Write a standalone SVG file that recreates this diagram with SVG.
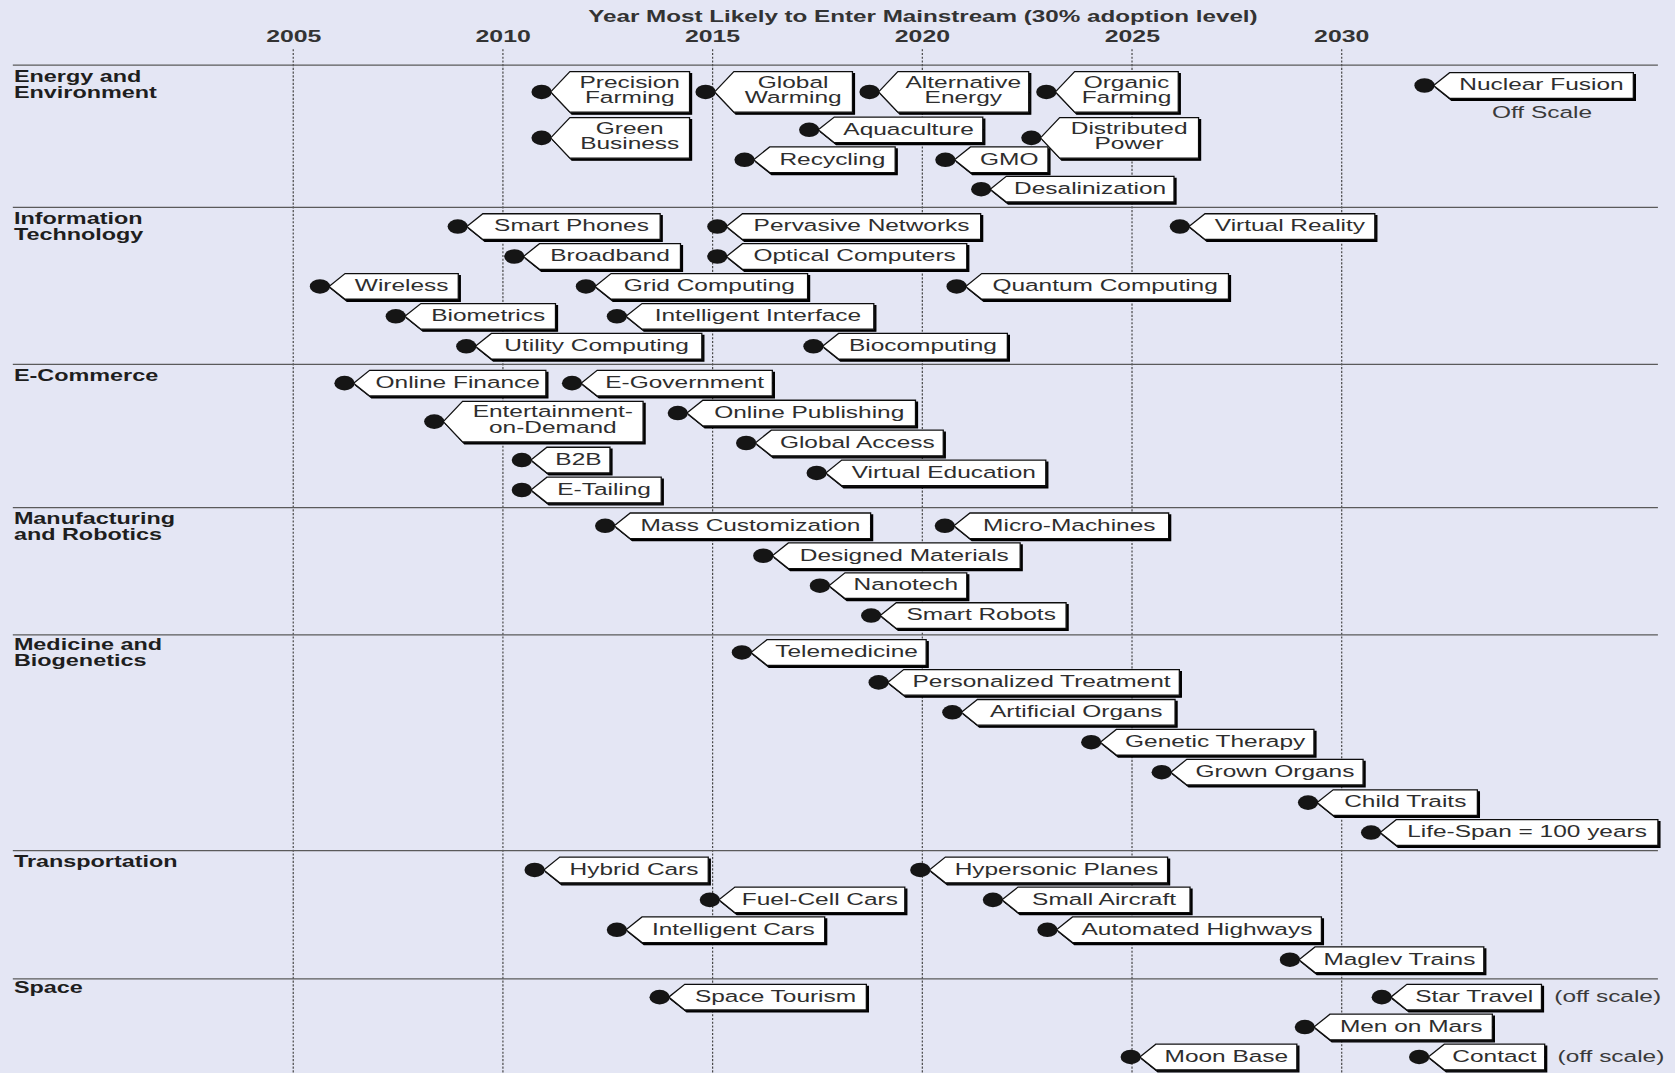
<svg xmlns="http://www.w3.org/2000/svg" width="1675" height="1073" viewBox="0 0 1675 1073">
<defs>
<filter id="sh" x="-10%" y="-20%" width="125%" height="150%">
<feOffset in="SourceAlpha" dx="1.7" dy="1.7" result="o"/>
<feMerge><feMergeNode in="o"/><feMergeNode in="SourceGraphic"/></feMerge>
</filter>
</defs>
<style>
.bg{fill:#e4e6f4}
.grid line{stroke:#444;stroke-width:1.1;stroke-dasharray:2 1.5}
.sep line{stroke:#5a5a5a;stroke-width:1.2}
.ttl{font-family:"Liberation Sans",Arial,sans-serif;font-weight:bold;font-size:15px;fill:#333;text-anchor:middle}
.yr{font-family:"Liberation Sans",Arial,sans-serif;font-weight:bold;font-size:15px;fill:#333;text-anchor:middle}
.cat{font-family:"Liberation Sans",Arial,sans-serif;font-weight:bold;font-size:15px;fill:#1e1e1e}
.tag ellipse{fill:#151515}
.tag polygon{fill:#fff;stroke:#111;stroke-width:1.2;filter:url(#sh)}
.tag text{font-family:"Liberation Sans",Arial,sans-serif;font-size:16px;fill:#2e2e2e;text-anchor:middle}
.note{font-family:"Liberation Sans",Arial,sans-serif;font-size:16px;fill:#3a3a3a}
</style>
<rect class="bg" x="0" y="0" width="1675" height="1073"/>
<g transform="scale(1.06824,1.06873)">
<text class="ttl" transform="translate(864,20.5) scale(1.51,1)">Year Most Likely to Enter Mainstream (30% adoption level)</text>
<g id="years">
<text class="yr" transform="translate(275,39) scale(1.55,1)">2005</text>
<text class="yr" transform="translate(471,39) scale(1.55,1)">2010</text>
<text class="yr" transform="translate(667,39) scale(1.55,1)">2015</text>
<text class="yr" transform="translate(863.5,39) scale(1.55,1)">2020</text>
<text class="yr" transform="translate(1060,39) scale(1.55,1)">2025</text>
<text class="yr" transform="translate(1256,39) scale(1.55,1)">2030</text>
</g>
<g id="connectors" class="grid">
<line x1="274.5" y1="46" x2="274.5" y2="1004"/>
<line x1="470.8" y1="46" x2="470.8" y2="1004"/>
<line x1="667.1" y1="46" x2="667.1" y2="1004"/>
<line x1="863.4" y1="46" x2="863.4" y2="1004"/>
<line x1="1059.7" y1="46" x2="1059.7" y2="1004"/>
<line x1="1256" y1="46" x2="1256" y2="1004"/>
</g>
<g id="separators" class="sep">
<line x1="12" y1="61" x2="1552" y2="61"/>
<line x1="12" y1="194" x2="1552" y2="194"/>
<line x1="12" y1="341" x2="1552" y2="341"/>
<line x1="12" y1="475" x2="1552" y2="475"/>
<line x1="12" y1="594" x2="1552" y2="594"/>
<line x1="12" y1="796" x2="1552" y2="796"/>
<line x1="12" y1="916" x2="1552" y2="916"/>
</g>
<g id="categories">
<text class="cat" transform="translate(13,76.5) scale(1.46,1)"><tspan x="0" y="0">Energy and</tspan><tspan x="0" y="15">Environment</tspan></text>
<text class="cat" transform="translate(13,209.5) scale(1.46,1)"><tspan x="0" y="0">Information</tspan><tspan x="0" y="15">Technology</tspan></text>
<text class="cat" transform="translate(13,356.5) scale(1.46,1)">E-Commerce</text>
<text class="cat" transform="translate(13,490.5) scale(1.46,1)"><tspan x="0" y="0">Manufacturing</tspan><tspan x="0" y="15">and Robotics</tspan></text>
<text class="cat" transform="translate(13,608.5) scale(1.46,1)"><tspan x="0" y="0">Medicine and</tspan><tspan x="0" y="15">Biogenetics</tspan></text>
<text class="cat" transform="translate(13,811.5) scale(1.46,1)">Transportation</text>
<text class="cat" transform="translate(13,929.5) scale(1.46,1)">Space</text>
</g>

<g id="precision-farming" class="tag"><ellipse cx="507" cy="86" rx="9.5" ry="6.8"/><polygon points="515.5,86 533.5,67 645.5,67 645.5,105 533.5,105"/><text transform="translate(589.5,82.5) scale(1.43,1)"><tspan x="0" y="-0.5">Precision</tspan><tspan x="0" y="14.3">Farming</tspan></text></g>
<g id="global-warming" class="tag"><ellipse cx="660.5" cy="86" rx="9.5" ry="6.8"/><polygon points="669,86 687,67 798,67 798,105 687,105"/><text transform="translate(742.5,82.5) scale(1.43,1)"><tspan x="0" y="-0.5">Global</tspan><tspan x="0" y="14.3">Warming</tspan></text></g>
<g id="alternative-energy" class="tag"><ellipse cx="814" cy="86" rx="9.5" ry="6.8"/><polygon points="822.5,86 840.5,67 963,67 963,105 840.5,105"/><text transform="translate(901.75,82.5) scale(1.43,1)"><tspan x="0" y="-0.5">Alternative</tspan><tspan x="0" y="14.3">Energy</tspan></text></g>
<g id="organic-farming" class="tag"><ellipse cx="979.5" cy="86" rx="9.5" ry="6.8"/><polygon points="988,86 1006,67 1103,67 1103,105 1006,105"/><text transform="translate(1054.5,82.5) scale(1.43,1)"><tspan x="0" y="-0.5">Organic</tspan><tspan x="0" y="14.3">Farming</tspan></text></g>
<g id="nuclear-fusion" class="tag"><ellipse cx="1333.5" cy="80" rx="9.5" ry="6.8"/><polygon points="1342,80 1357,68 1529,68 1529,92 1357,92"/><text transform="translate(1443,84.5) scale(1.43,1)">Nuclear Fusion</text></g>
<text class="note" transform="translate(1443.5,110.5) scale(1.43,1)" text-anchor="middle">Off Scale</text>
<g id="green-business" class="tag"><ellipse cx="507" cy="129" rx="9.5" ry="6.8"/><polygon points="515.5,129 533.5,110 645.5,110 645.5,148 533.5,148"/><text transform="translate(589.5,125.5) scale(1.43,1)"><tspan x="0" y="-0.5">Green</tspan><tspan x="0" y="14.3">Business</tspan></text></g>
<g id="aquaculture" class="tag"><ellipse cx="757.5" cy="121.5" rx="9.5" ry="6.8"/><polygon points="766,121.5 781,109.5 920,109.5 920,133.5 781,133.5"/><text transform="translate(850.5,126) scale(1.43,1)">Aquaculture</text></g>
<g id="distributed-power" class="tag"><ellipse cx="965.5" cy="129" rx="9.5" ry="6.8"/><polygon points="974,129 992,110 1122,110 1122,148 992,148"/><text transform="translate(1057,125.5) scale(1.43,1)"><tspan x="0" y="-0.5">Distributed</tspan><tspan x="0" y="14.3">Power</tspan></text></g>
<g id="recycling" class="tag"><ellipse cx="697" cy="149.5" rx="9.5" ry="6.8"/><polygon points="705.5,149.5 720.5,137.5 838,137.5 838,161.5 720.5,161.5"/><text transform="translate(779.25,154) scale(1.43,1)">Recycling</text></g>
<g id="gmo" class="tag"><ellipse cx="885" cy="149.5" rx="9.5" ry="6.8"/><polygon points="893.5,149.5 908.5,137.5 981,137.5 981,161.5 908.5,161.5"/><text transform="translate(944.75,154) scale(1.43,1)">GMO</text></g>
<g id="desalinization" class="tag"><ellipse cx="918.5" cy="177" rx="9.5" ry="6.8"/><polygon points="927,177 942,165 1099,165 1099,189 942,189"/><text transform="translate(1020.5,181.5) scale(1.43,1)">Desalinization</text></g>

<g id="smart-phones" class="tag"><ellipse cx="428.5" cy="212" rx="9.5" ry="6.8"/><polygon points="437,212 452,200 618,200 618,224 452,224"/><text transform="translate(535,216.5) scale(1.43,1)">Smart Phones</text></g>
<g id="pervasive-networks" class="tag"><ellipse cx="671.5" cy="212" rx="9.5" ry="6.8"/><polygon points="680,212 695,200 918,200 918,224 695,224"/><text transform="translate(806.5,216.5) scale(1.43,1)">Pervasive Networks</text></g>
<g id="virtual-reality" class="tag"><ellipse cx="1104.5" cy="212" rx="9.5" ry="6.8"/><polygon points="1113,212 1128,200 1287,200 1287,224 1128,224"/><text transform="translate(1207.5,216.5) scale(1.43,1)">Virtual Reality</text></g>
<g id="broadband" class="tag"><ellipse cx="481.5" cy="240" rx="9.5" ry="6.8"/><polygon points="490,240 505,228 637,228 637,252 505,252"/><text transform="translate(571,244.5) scale(1.43,1)">Broadband</text></g>
<g id="optical-computers" class="tag"><ellipse cx="671.5" cy="240" rx="9.5" ry="6.8"/><polygon points="680,240 695,228 905,228 905,252 695,252"/><text transform="translate(800,244.5) scale(1.43,1)">Optical Computers</text></g>
<g id="wireless" class="tag"><ellipse cx="299.5" cy="268" rx="9.5" ry="6.8"/><polygon points="308,268 323,256 429,256 429,280 323,280"/><text transform="translate(376,272.5) scale(1.43,1)">Wireless</text></g>
<g id="grid-computing" class="tag"><ellipse cx="548.5" cy="268" rx="9.5" ry="6.8"/><polygon points="557,268 572,256 756,256 756,280 572,280"/><text transform="translate(664,272.5) scale(1.43,1)">Grid Computing</text></g>
<g id="quantum-computing" class="tag"><ellipse cx="895.5" cy="268" rx="9.5" ry="6.8"/><polygon points="904,268 919,256 1150,256 1150,280 919,280"/><text transform="translate(1034.5,272.5) scale(1.43,1)">Quantum Computing</text></g>
<g id="biometrics" class="tag"><ellipse cx="370.5" cy="296" rx="9.5" ry="6.8"/><polygon points="379,296 394,284 520,284 520,308 394,308"/><text transform="translate(457,300.5) scale(1.43,1)">Biometrics</text></g>
<g id="intelligent-interface" class="tag"><ellipse cx="577.5" cy="296" rx="9.5" ry="6.8"/><polygon points="586,296 601,284 818,284 818,308 601,308"/><text transform="translate(709.5,300.5) scale(1.43,1)">Intelligent Interface</text></g>
<g id="utility-computing" class="tag"><ellipse cx="436.5" cy="324" rx="9.5" ry="6.8"/><polygon points="445,324 460,312 657,312 657,336 460,336"/><text transform="translate(558.5,328.5) scale(1.43,1)">Utility Computing</text></g>
<g id="biocomputing" class="tag"><ellipse cx="761.5" cy="324" rx="9.5" ry="6.8"/><polygon points="770,324 785,312 943,312 943,336 785,336"/><text transform="translate(864,328.5) scale(1.43,1)">Biocomputing</text></g>

<g id="online-finance" class="tag"><ellipse cx="322.5" cy="358.5" rx="9.5" ry="6.8"/><polygon points="331,358.5 346,346.5 511,346.5 511,370.5 346,370.5"/><text transform="translate(428.5,363) scale(1.43,1)">Online Finance</text></g>
<g id="e-government" class="tag"><ellipse cx="535.5" cy="358.5" rx="9.5" ry="6.8"/><polygon points="544,358.5 559,346.5 723,346.5 723,370.5 559,370.5"/><text transform="translate(641,363) scale(1.43,1)">E-Government</text></g>
<g id="entertainment-on-demand" class="tag"><ellipse cx="406.5" cy="394.5" rx="9.5" ry="6.8"/><polygon points="415,394.5 433,375.5 602,375.5 602,413.5 433,413.5"/><text transform="translate(517.5,391) scale(1.43,1)"><tspan x="0" y="-0.5">Entertainment-</tspan><tspan x="0" y="14.3">on-Demand</tspan></text></g>
<g id="online-publishing" class="tag"><ellipse cx="634.5" cy="386.5" rx="9.5" ry="6.8"/><polygon points="643,386.5 658,374.5 857,374.5 857,398.5 658,398.5"/><text transform="translate(757.5,391) scale(1.43,1)">Online Publishing</text></g>
<g id="global-access" class="tag"><ellipse cx="698.5" cy="414.5" rx="9.5" ry="6.8"/><polygon points="707,414.5 722,402.5 883,402.5 883,426.5 722,426.5"/><text transform="translate(802.5,419) scale(1.43,1)">Global Access</text></g>
<g id="b2b" class="tag"><ellipse cx="488.5" cy="430.5" rx="9.5" ry="6.8"/><polygon points="497,430.5 512,418.5 571,418.5 571,442.5 512,442.5"/><text transform="translate(541.5,435) scale(1.43,1)">B2B</text></g>
<g id="virtual-education" class="tag"><ellipse cx="764.5" cy="442.5" rx="9.5" ry="6.8"/><polygon points="773,442.5 788,430.5 979,430.5 979,454.5 788,454.5"/><text transform="translate(883.5,447) scale(1.43,1)">Virtual Education</text></g>
<g id="e-tailing" class="tag"><ellipse cx="488.5" cy="458.5" rx="9.5" ry="6.8"/><polygon points="497,458.5 512,446.5 619,446.5 619,470.5 512,470.5"/><text transform="translate(565.5,463) scale(1.43,1)">E-Tailing</text></g>

<g id="mass-customization" class="tag"><ellipse cx="566.5" cy="492" rx="9.5" ry="6.8"/><polygon points="575,492 590,480 815,480 815,504 590,504"/><text transform="translate(702.5,496.5) scale(1.43,1)">Mass Customization</text></g>
<g id="micro-machines" class="tag"><ellipse cx="884.5" cy="492" rx="9.5" ry="6.8"/><polygon points="893,492 908,480 1094,480 1094,504 908,504"/><text transform="translate(1001,496.5) scale(1.43,1)">Micro-Machines</text></g>
<g id="designed-materials" class="tag"><ellipse cx="714.5" cy="520" rx="9.5" ry="6.8"/><polygon points="723,520 738,508 955,508 955,532 738,532"/><text transform="translate(846.5,524.5) scale(1.43,1)">Designed Materials</text></g>
<g id="nanotech" class="tag"><ellipse cx="767.5" cy="548" rx="9.5" ry="6.8"/><polygon points="776,548 791,536 905,536 905,560 791,560"/><text transform="translate(848,552.5) scale(1.43,1)">Nanotech</text></g>
<g id="smart-robots" class="tag"><ellipse cx="815.5" cy="576" rx="9.5" ry="6.8"/><polygon points="824,576 839,564 998,564 998,588 839,588"/><text transform="translate(918.5,580.5) scale(1.43,1)">Smart Robots</text></g>

<g id="telemedicine" class="tag"><ellipse cx="694.5" cy="610.5" rx="9.5" ry="6.8"/><polygon points="703,610.5 718,598.5 867,598.5 867,622.5 718,622.5"/><text transform="translate(792.5,615) scale(1.43,1)">Telemedicine</text></g>
<g id="personalized-treatment" class="tag"><ellipse cx="822.5" cy="638.5" rx="9.5" ry="6.8"/><polygon points="831,638.5 846,626.5 1104,626.5 1104,650.5 846,650.5"/><text transform="translate(975,643) scale(1.43,1)">Personalized Treatment</text></g>
<g id="artificial-organs" class="tag"><ellipse cx="891.5" cy="666.5" rx="9.5" ry="6.8"/><polygon points="900,666.5 915,654.5 1100,654.5 1100,678.5 915,678.5"/><text transform="translate(1007.5,671) scale(1.43,1)">Artificial Organs</text></g>
<g id="genetic-therapy" class="tag"><ellipse cx="1021.5" cy="694.5" rx="9.5" ry="6.8"/><polygon points="1030,694.5 1045,682.5 1230,682.5 1230,706.5 1045,706.5"/><text transform="translate(1137.5,699) scale(1.43,1)">Genetic Therapy</text></g>
<g id="grown-organs" class="tag"><ellipse cx="1087.5" cy="722.5" rx="9.5" ry="6.8"/><polygon points="1096,722.5 1111,710.5 1276,710.5 1276,734.5 1111,734.5"/><text transform="translate(1193.5,727) scale(1.43,1)">Grown Organs</text></g>
<g id="child-traits" class="tag"><ellipse cx="1224.5" cy="751" rx="9.5" ry="6.8"/><polygon points="1233,751 1248,739 1383,739 1383,763 1248,763"/><text transform="translate(1315.5,755.5) scale(1.43,1)">Child Traits</text></g>
<g id="life-span" class="tag"><ellipse cx="1283.5" cy="779" rx="9.5" ry="6.8"/><polygon points="1292,779 1307,767 1552,767 1552,791 1307,791"/><text transform="translate(1429.5,783.5) scale(1.43,1)">Life-Span = 100 years</text></g>

<g id="hybrid-cars" class="tag"><ellipse cx="500.5" cy="814" rx="9.5" ry="6.8"/><polygon points="509,814 524,802 663,802 663,826 524,826"/><text transform="translate(593.5,818.5) scale(1.43,1)">Hybrid Cars</text></g>
<g id="hypersonic-planes" class="tag"><ellipse cx="861.5" cy="814" rx="9.5" ry="6.8"/><polygon points="870,814 885,802 1093,802 1093,826 885,826"/><text transform="translate(989,818.5) scale(1.43,1)">Hypersonic Planes</text></g>
<g id="fuel-cell-cars" class="tag"><ellipse cx="664.5" cy="842" rx="9.5" ry="6.8"/><polygon points="673,842 688,830 847,830 847,854 688,854"/><text transform="translate(767.5,846.5) scale(1.43,1)">Fuel-Cell Cars</text></g>
<g id="small-aircraft" class="tag"><ellipse cx="929.5" cy="842" rx="9.5" ry="6.8"/><polygon points="938,842 953,830 1114,830 1114,854 953,854"/><text transform="translate(1033.5,846.5) scale(1.43,1)">Small Aircraft</text></g>
<g id="intelligent-cars" class="tag"><ellipse cx="577.5" cy="870" rx="9.5" ry="6.8"/><polygon points="586,870 601,858 772,858 772,882 601,882"/><text transform="translate(686.5,874.5) scale(1.43,1)">Intelligent Cars</text></g>
<g id="automated-highways" class="tag"><ellipse cx="980.5" cy="870" rx="9.5" ry="6.8"/><polygon points="989,870 1004,858 1237,858 1237,882 1004,882"/><text transform="translate(1120.5,874.5) scale(1.43,1)">Automated Highways</text></g>
<g id="maglev-trains" class="tag"><ellipse cx="1207.5" cy="898" rx="9.5" ry="6.8"/><polygon points="1216,898 1231,886 1389,886 1389,910 1231,910"/><text transform="translate(1310,902.5) scale(1.43,1)">Maglev Trains</text></g>

<g id="space-tourism" class="tag"><ellipse cx="617.5" cy="933" rx="9.5" ry="6.8"/><polygon points="626,933 641,921 811,921 811,945 641,945"/><text transform="translate(726,937.5) scale(1.43,1)">Space Tourism</text></g>
<g id="star-travel" class="tag"><ellipse cx="1293.5" cy="933" rx="9.5" ry="6.8"/><polygon points="1302,933 1317,921 1443,921 1443,945 1317,945"/><text transform="translate(1380,937.5) scale(1.43,1)">Star Travel</text></g>
<text class="note" transform="translate(1455,937.5) scale(1.43,1)">(off scale)</text>
<g id="men-on-mars" class="tag"><ellipse cx="1221.5" cy="961" rx="9.5" ry="6.8"/><polygon points="1230,961 1245,949 1397,949 1397,973 1245,973"/><text transform="translate(1321,965.5) scale(1.43,1)">Men on Mars</text></g>
<g id="moon-base" class="tag"><ellipse cx="1058.5" cy="989" rx="9.5" ry="6.8"/><polygon points="1067,989 1082,977 1214,977 1214,1001 1082,1001"/><text transform="translate(1148,993.5) scale(1.43,1)">Moon Base</text></g>
<g id="contact" class="tag"><ellipse cx="1328.5" cy="989" rx="9.5" ry="6.8"/><polygon points="1337,989 1352,977 1446,977 1446,1001 1352,1001"/><text transform="translate(1399,993.5) scale(1.43,1)">Contact</text></g>
<text class="note" transform="translate(1458,993.5) scale(1.43,1)">(off scale)</text>
</g>
</svg>
